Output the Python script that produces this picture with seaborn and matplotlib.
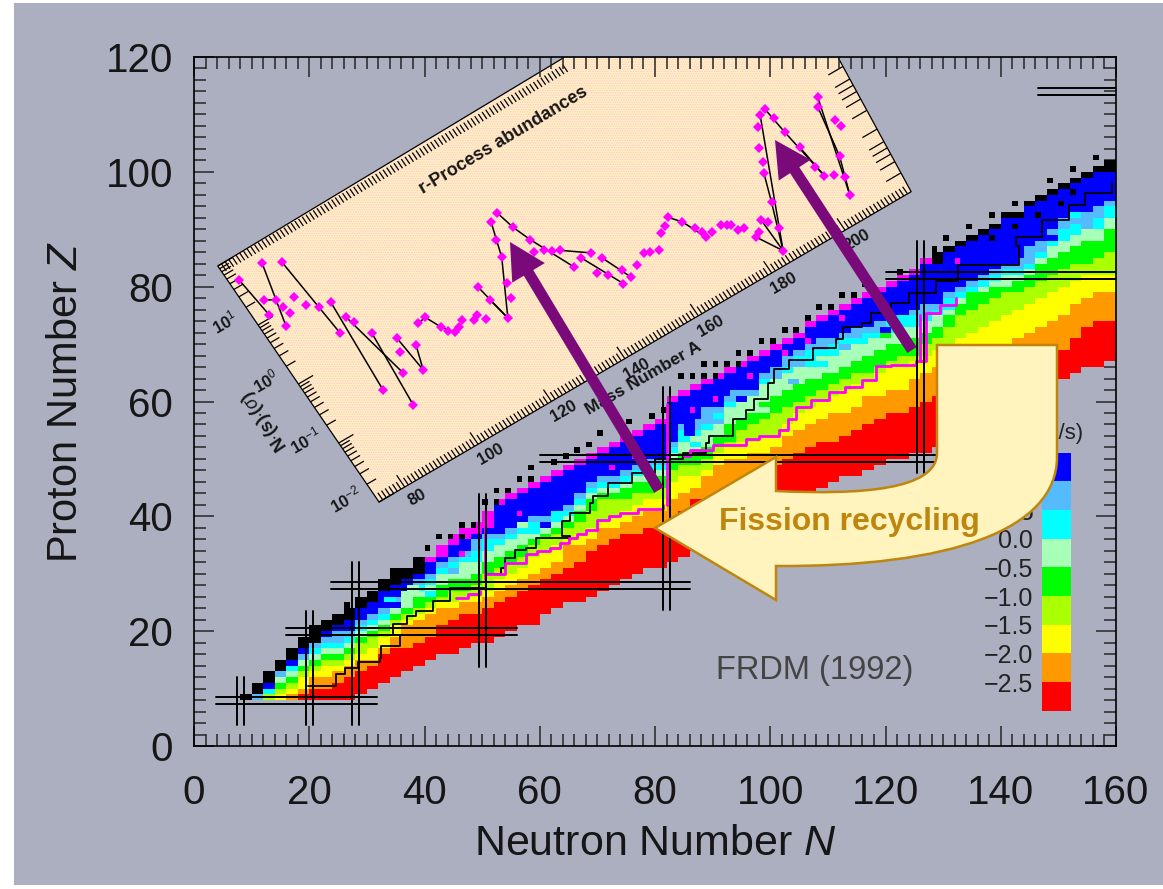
import numpy as np
import matplotlib
matplotlib.use('Agg')
import matplotlib.pyplot as plt
import seaborn as sns
from matplotlib.colors import ListedColormap
from matplotlib.collections import LineCollection
from matplotlib.patches import Rectangle, Polygon, PathPatch, FancyArrow
from matplotlib.path import Path
from matplotlib.transforms import Affine2D

# column start of every 2-wide neutron column in the chart
col_N = list(range(8, 160, 2))

# top Z of each colour band per column, from the bottom of the chart upwards
z_bottom = [8,8,8,8,8,8,8,8,8,8, 9,10,11,12,13,14,15,16,16,17, 18,18,19,20,21,21,23,24,25,25,
            26,27,28,29,30,31,31,32,33,34, 35,36,37,38,39,40,41,42,43,44, 45,46,47,47,48,49,50,50,51,51,
            52,53,54,55,56,57,58,59,60,61, 62,64,65,66,66,67]
z_red = [8,8,8,8,8,9,10,10,11,12, 13,14,16,17,17,18,19,21,22,23, 23,24,25,26,27,28,29,30,31,32,
         34,35,36,37,37,38,38,38,41,43, 43,44,44,45,46,47,49,50,51,52, 53,53,54,55,56,57,58,58,59,60,
         61,61,62,62,63,63,64,65,66,67, 68,69,71,73,74,74]
z_orange = [8,8,8,8,9,10,12,12,13,14, 15,15,17,19,21,22,23,24,24,25, 25,26,27,28,29,30,31,32,35,35,
            36,38,38,39,40,41,41,43,44,45, 47,49,50,50,51,51,52,54,55,56, 57,58,58,59,61,61,62,62,64,65,
            66,67,67,68,69,70,70,71,72,73, 74,75,77,78,79,79]
z_yellow = [8,8,8,9,10,12,13,14,14,15, 16,17,19,21,22,23,24,25,25,26, 26,27,29,30,31,33,34,35,36,37,
            38,39,40,41,42,43,43,46,47,47, 48,51,52,53,53,54,54,56,58,59, 60,61,62,63,64,65,66,66,67,68,
            69,70,71,72,73,74,75,76,77,78, 79,80,81,82,82,82]
z_lime = [8,8,9,10,11,13,14,15,15,16, 18,19,20,22,23,24,25,26,27,27, 28,30,31,32,33,35,36,37,38,39,
          41,43,43,43,44,44,45,48,49,49, 50,52,53,55,56,57,58,59,60,61, 62,63,64,65,65,66,67,68,68,70,
          71,73,75,76,77,78,79,79,80,81, 82,83,84,84,85,86]
z_green = [8,8,9,11,12,14,15,16,16,17, 19,20,21,23,24,26,27,28,29,29, 30,32,33,34,35,36,37,38,39,41,
           43,44,44,45,46,46,47,50,51,51, 52,54,56,57,58,60,61,62,63,64, 65,65,66,67,68,69,70,71,71,72,
           73,75,77,79,79,80,80,81,82,84, 85,86,87,88,88,90]
z_mint = [8,8,9,12,13,15,16,17,17,18, 20,21,22,24,26,27,28,30,31,32, 32,34,35,36,37,37,38,39,40,42,
          44,45,45,46,47,48,48,51,53,54, 55,57,59,60,61,63,64,65,67,67, 68,68,69,70,71,71,72,73,74,74,
          75,76,78,79,80,81,82,82,83,85, 87,88,89,90,90,92]
z_cyan = [8,8,10,12,14,15,17,18,18,19, 21,22,23,25,27,28,29,31,32,33, 34,36,36,37,38,39,39,40,41,43,
          45,46,46,47,48,49,49,52,55,55, 57,58,60,61,61,64,64,66,68,69, 69,70,71,71,72,73,74,75,75,75,
          76,78,79,80,81,82,83,83,84,86, 88,90,91,91,92,94]
z_ltblue = [8,9,10,13,14,16,18,19,20,20, 22,23,24,26,27,29,30,32,33,34, 36,37,37,38,39,40,40,41,42,44,
            46,47,47,48,49,50,50,53,56,57, 59,59,61,62,62,65,66,68,69,70, 71,71,72,73,73,74,75,75,76,77,
            77,79,80,81,82,83,84,85,86,88, 90,92,93,93,94,95]
z_blue = [8,9,11,13,15,17,18,20,21,22, 24,25,27,28,29,30,32,33,35,36, 37,38,42,43,44,45,46,47,48,49,
          50,51,52,53,54,55,56,60,61,62, 63,64,65,66,67,68,69,70,71,73, 74,75,76,77,78,79,80,81,82,84,
          84,86,87,88,89,90,92,92,94,95, 96,97,98,99,100,100]
z_magenta = [8,9,11,13,15,17,18,20,21,22, 24,25,27,28,29,30,33,35,37,38, 39,41,43,44,45,46,47,48,49,50,
             51,52,53,54,55,56,57,61,62,63, 64,65,66,67,68,69,70,71,72,74, 75,76,77,78,79,80,81,82,83,85,
             84,86,87,88,89,90,92,92,94,95, 96,97,98,99,100,100]
z_black = [9,11,13,15,17,19,21,22,23,24, 26,27,29,31,31,33,33,35,37,38, 39,41,43,44,45,46,47,48,49,50,
           51,52,53,54,55,56,57,61,62,63, 64,65,66,67,68,69,70,71,72,74, 75,76,77,78,79,80,81,82,83,85,
           86,87,88,89,90,91,93,93,95,96, 97,98,99,100,101,102]

band_colors = ['#FF0000', '#FF9900', '#FFFF00', '#AAFF00', '#00FF00', '#A8FFB8',
               '#00FFFF', '#55BBFF', '#0000FF', '#FF00FF', '#000000']

# single black cells
dot_N = [26,40,42,44,46,46,48,50,52,54,52,56,58,58,62,64,66,68,70,75,79,81,84,86,88,90,88,90,92,94,94,96,98,100,
         102,104,106,108,110,112,114,116,122,128,130,134,138,142,148,152,156,138,142,146,150,152]
dot_Z = [24,34,36,36,38,36,38,42,44,44,42,46,46,48,49,50,51,52,54,56,57,58,64,64,64,64,66,66,66,66,68,68,70,70,
         72,72,74,76,76,78,78,80,82,86,88,90,92,94,98,100,102,88,90,92,94,96]
# single magenta cells inside the blue part
spot_N = [96,106,112,102,132,90,72,86,76,56,46]
spot_Z = [64,70,74,68,84,60,48,58,50,40,33]
# other odd cells: column, Z, band number
speck_N = [85,85,85,88,90,88,86,93,94,106,108,109,107,110,103,118,115,119,119,138,141,148,34,33,37,40,36,98,96,104,
           112,122,124,128,134,144,152,154,70,74,62,60,66,92,44,48,56]
speck_Z = [54,55,56,56,56,54,52,61,60,66,66,67,64,64,63,72,70,71,72,84,84,88,24,25,27,26,26,58,55,66,
           69,70,73,76,80,86,92,90,46,46,40,38,42,56,30,32,38]
speck_band = [8,8,8,7,7,5,6,7,8,6,6,5,5,4,7,7,6,4,8,8,8,8,8,6,5,6,5,5,3,7,
              7,5,6,7,7,7,6,7,7,6,6,8,6,5,7,6,5]

# step line and r-process path (nan = pen up)
step_N = [19.8,24.7,24.7,26.2,26.2,28.5,28.5,31.1,32.3,32.5,35.7,35.7,34.6,36.9,36.9,38.6,38.6,41.5,41.5,44.4,44.4,
          50.7,53.3,54,55.7,57.7,59.4,65.2,63.8,65.2,68.7,69.2,71.8,76,80,84.8,88.9,89.4,93.5,93.5,95.8,97.2,99.6,
          100.7,103.3,107.4,111.4,112.6,116,117.4,120.9,124.1,128.7,132.5,132.5,143.2,142.6,147.2,151.8,154.7,159.3]
step_Z = [10.5,10.5,12.5,12.5,13.5,13.5,14.6,14.6,15.4,17.5,18.6,19.4,21.2,21.4,22.6,22.6,23.5,23.5,25.2,25.2,27.6,
          29.9,31,32.8,34.2,34.5,36.3,36.5,39.2,40.6,42.3,43.5,45.8,47.5,50,51,52.8,54,54.9,56.9,58.6,60.4,63.3,
          65.6,67.3,69.4,70.8,73,73.7,75.4,77.1,78.9,80.9,82,83.8,87,88.7,91.6,94.2,96.3,98]
path_N = [45.5,47.5,49.6,np.nan,50.7,54,57.7,59.5,61.7,63.5,65,66.5,68,70,72,73.9,77,81.4,np.nan,85,86,90,95.8,98,101.6,
          103,104.5,107,110.2,113,116,118.3,121,125.3,127,129.5,132.2,
          np.nan,50.5,50.5,np.nan,82,82,np.nan,126,126]
path_Z = [25.8,26.4,27,np.nan,29.9,31.8,33.4,34,34.5,35.4,36.3,37,37.7,39.4,40,40.6,41.2,42,np.nan,50.5,51.6,52.5,53.4,54,55.1,
          57,59.1,60.2,61.6,62.6,63.8,66.1,66.4,67,75.5,76.8,78,
          np.nan,29,41,np.nan,42,59.5,np.nan,67,75]

# closed shells: double lines
shell_N = [8,20,28,50,82,126]
shell_N_from = [3.6,3.7,3.7,13.7,23.7,47.6]
shell_N_to = [12,23.5,32,43.9,62.5,87.9]
shell_Z = [8,20,28,50,82,114]
shell_Z_from = [3.8,16,23.7,60,120,146.4]
shell_Z_to = [31.8,56,86,130,160,160]

# r-process abundances inset
rp_A = [75.3,82,86,77.5,79.8,76.5,80.3,78.3,80.8,83.7,85,87.2,90.2,87.9,91.2,92.1,94.1,88.7,98.3,97.1,94.9,92.6,
        101.1,99.2,104.4,106.6,108.4,110.4,113.4,115.8,118.2,120.9,121.5,122.6,125.9,127,129.5,130.7,132.1,134.5,
        135.7,137.4,136.5,138.7,141.8,142.3,144.9,147.5,148.9,146,147.9,151.3,149.7,152.1,157.7,161.1,163.8,167.2,
        169.4,171.1,172,176.6,178.6,180.6,181.7,185,187.4,185.2,189.4,191.8,193,194.2,196.8,198.8,200.5,201.1,
        201.3,202.2,202.6,203.2,205.1,207.1,205.6,208.8,211.1,212.4,212.6,213,
        154.8,159.1,109.3,173.8,179.2,186.1,171.9,112,117,140,165.5,177.6,183]
rp_logY = [1.68,1.72,1.6,1.26,1.18,1.05,1.04,.79,.92,1.08,.91,.79,.76,.33,.47,.36,.10,-.67,-.14,-.33,-.61,-1.06,
           -.36,-.71,-.11,-.09,-.32,-.48,-.38,-.47,-.53,-.09,-.33,-.68,-.46,-.25,.10,.35,.60,.67,
           .38,.11,-.07,-.12,-.23,-.53,-.47,-.48,-.61,-.76,-.87,-.91,-1.08,-1.06,-.85,-.93,-.74,-.59,
           -.75,-.91,-1.1,-1.06,-1.13,-1.26,-1.45,-1.28,-1.5,-1.81,-1.14,-.73,-.59,-.40,-.13,0,.03,-.14,
           -.39,-.67,-1.02,-1.19,-1.25,-1.35,-1.61,-1.06,-.31,-.19,-.59,-.71,
           -.95,-.89,-.41,-1.08,-1.24,-1.36,-1.01,-.44,-.42,-.18,-.68,-1.1,-1.42]
# pairs of inset points joined by the black curve
rp_links = [(0,5),(1,7),(2,13),(3,4),(12,17),(14,20),(16,21),(18,23),(22,23),(24,25),(25,26),(26,27),(31,33),(32,33),
            (38,36),(36,33),(39,40),(40,41),(41,45),(46,52),(44,47),(48,53),(57,58),(58,60),(64,67),(65,67),(73,67),
            (74,76),(76,79),(77,79),(85,82),(84,83),(83,82),(68,67),(69,68)]
inset_edge_A = [73,218,221.6,168,73]
inset_edge_Y = [-2,-2,0.13,2.08,2]
inset_A_ticks = [80,100,120,140,160,180,200]
inset_Y_ticks = [1,0,-1,-2]
inset_Y_labels = ['10$^{1}$','10$^{0}$','10$^{-1}$','10$^{-2}$']

# colour key, top to bottom
key_colors = ['#0000FF','#55BBFF','#00FFFF','#A8FFB8','#00FF00','#AAFF00','#FFFF00','#FF9900','#FF0000']
key_labels = ['1.0','0.5','0.0','\u22120.5','\u22121.0','\u22121.5','\u22122.0','\u22122.5']

x_ticks = list(range(0,161,20))
y_ticks = list(range(0,121,20))

W, H = 1163, 889
BG = '#ABAFC0'
GOLD = '#BF860F'
PURPLE = '#7A0A7A'
INK = '#161616'

sns.set_style('ticks')
plt.rcParams['font.family'] = ['Liberation Sans', 'DejaVu Sans']
plt.rcParams['mathtext.fontset'] = 'custom'
plt.rcParams['mathtext.rm'] = 'Liberation Sans'
plt.rcParams['mathtext.it'] = 'Liberation Sans:italic'
plt.rcParams['hatch.linewidth'] = 0.6
plt.rcParams['text.color'] = INK
plt.rcParams['axes.labelcolor'] = INK
plt.rcParams['xtick.labelcolor'] = INK
plt.rcParams['ytick.labelcolor'] = INK

fig = plt.figure(figsize=(W/100, H/100), dpi=100, facecolor='white')

# back layer: grey page and the inset
back = fig.add_axes([0,0,1,1], zorder=0)
back.set_xlim(0,W)
back.set_ylim(H,0)
back.axis('off')
back.add_patch(Rectangle((14,3), W-14, 882, fc=BG, ec='none'))

inset_trans = Affine2D.from_values(3.67,-2.14,-40.3,-59,30.49,540.22) + back.transData
back.add_patch(Polygon(np.c_[inset_edge_A, inset_edge_Y], closed=True, transform=inset_trans,
                       fc='#FFF0BE', ec='#FFC4D8', hatch='.......', lw=0))
back.plot(inset_edge_A[:3], inset_edge_Y[:3], transform=inset_trans, color='black', lw=0.9)
back.plot(inset_edge_A[3:]+inset_edge_A[:1], inset_edge_Y[3:]+inset_edge_Y[:1], transform=inset_trans, color='black', lw=0.9)

segs = []
for a in np.arange(74, 218, 1):
    segs.append([(a,-2), (a,-1.88 if a % 20 else -1.8)])
for a in np.arange(74, 168, 1):
    segs.append([(a,2), (a,1.88)])
for d in [2,1,0,-1,-2]:
    for m in range(1,10):
        v = d + np.log10(m)
        if v <= 2:
            segs.append([(73,v), (77 if m == 1 else 75.5,v)])
for v in [-1.7,-1.52,-1.4,-1.3,-1.2,-1,-.7,-.52,-.4,-.3,-.2,0]:
    segs.append([(218+(v+2)*1.7,v), (214+(v+2)*1.7,v)])
back.add_collection(LineCollection(segs, colors='black', linewidths=0.9, transform=inset_trans))

links = [[(rp_A[i],rp_logY[i]), (rp_A[j],rp_logY[j])] for i,j in rp_links]
back.add_collection(LineCollection(links, colors='black', linewidths=1.1, transform=inset_trans))
back.plot(rp_A, rp_logY, ls='none', marker='D', ms=5.5, color='#FF00FF', mew=0, transform=inset_trans)

for a in inset_A_ticks:
    back.text(a+1, -2.21, str(a), transform=inset_trans, rotation=30, ha='center', va='center',
              fontsize=12, fontweight='bold')
for v, lab in zip(inset_Y_ticks, inset_Y_labels):
    back.text(67, v+0.27, lab, transform=inset_trans, rotation=30, ha='center', va='center',
              fontsize=12, fontweight='bold')
back.text(145.4, 1.51, 'r-Process abundances', transform=inset_trans, rotation=31, ha='center', va='center',
          fontsize=13, fontweight='bold')
back.text(141, -2.37, 'Mass Number A', transform=inset_trans, rotation=30, ha='center', va='center',
          fontsize=12.5, fontweight='bold')
back.text(61.7, -0.2, 'N$\\bullet$(s)$\\cdot$($\\sigma$)', transform=inset_trans, rotation=124, ha='center', va='center',
          fontsize=13, fontweight='bold')

# main chart
ax = fig.add_axes([194/W, (H-746)/H, (1116-194)/W, (746-57)/H], zorder=1)
ax.patch.set_alpha(0)

tops = [z_bottom, z_red, z_orange, z_yellow, z_lime, z_green, z_mint, z_cyan, z_ltblue, z_blue, z_magenta, z_black]
grid = np.full((120,160), np.nan)
for c, n in enumerate(col_N):
    for k in range(len(band_colors)):
        grid[tops[k][c]:tops[k+1][c], n:n+2] = k
for n, z, b in zip(speck_N, speck_Z, speck_band):
    grid[z, n:n+2] = b
for n, z in zip(spot_N, spot_Z):
    grid[z, n] = 9
for n, z in zip(dot_N, dot_Z):
    grid[z, n] = 10

sns.heatmap(grid, ax=ax, cmap=ListedColormap(band_colors), vmin=-0.5, vmax=10.5, cbar=False,
            xticklabels=False, yticklabels=False)
ax.plot(step_N, step_Z, drawstyle='steps-post', color='black', lw=1.3)
ax.plot(path_N, path_Z, drawstyle='steps-post', color='#FF00FF', lw=2)

for n, z0, z1 in zip(shell_N, shell_N_from, shell_N_to):
    ax.plot([n-.6,n-.6], [z0,z1], color='black', lw=1.4)
    ax.plot([n+.6,n+.6], [z0,z1], color='black', lw=1.4)
for z, n0, n1 in zip(shell_Z, shell_Z_from, shell_Z_to):
    ax.plot([n0,n1], [z-.6,z-.6], color='black', lw=1.4)
    ax.plot([n0,n1], [z+.6,z+.6], color='black', lw=1.4)

ax.set_xlim(0,160)
ax.set_ylim(0,120)
ax.set_xticks(x_ticks)
ax.set_xticklabels(x_ticks)
ax.set_yticks(y_ticks)
ax.set_yticklabels(y_ticks)
ax.set_xticks(range(0,161,2), minor=True)
ax.set_yticks(range(0,121,2), minor=True)
ax.tick_params(which='major', direction='in', length=14.5, width=1.1, top=True, right=True, bottom=True, left=True)
ax.tick_params(which='minor', direction='in', length=8.5, width=1.1, top=True, right=True, bottom=True, left=True)
ax.tick_params(axis='x', which='major', labelsize=29, pad=20, labelrotation=0)
ax.tick_params(axis='y', which='major', labelsize=29, pad=15, labelrotation=0)
for s in ax.spines.values():
    s.set_visible(True)
    s.set_linewidth(1.2)
    s.set_color('black')
ax.set_xlabel('Neutron Number $\\mathit{N}$', fontsize=31, labelpad=9)
ax.set_ylabel('Proton Number $\\mathit{Z}$', fontsize=30, labelpad=14)
ax.text(90.5, 13.2, 'FRDM (1992)', fontsize=23.5, color='#444444', va='center', ha='left')
ax.text(154.3, 54.5, 'lg(T/s)', fontsize=16, color='#222222', va='center', ha='right')

# colour key
key = fig.add_axes([1041.7/W, (H-710.7)/H, 29/W, 258/H], zorder=2)
sns.heatmap(np.arange(9).reshape(9,1), ax=key, cmap=ListedColormap(key_colors), cbar=False,
            xticklabels=False, yticklabels=False)
key.set_yticks(range(1,9))
key.set_yticklabels(key_labels, fontsize=18, color='#222222')
key.tick_params(axis='y', length=0, pad=6, labelrotation=0)

# front layer: arrows
front = fig.add_axes([0,0,1,1], zorder=3)
front.set_xlim(0,W)
front.set_ylim(H,0)
front.axis('off')
front.patch.set_alpha(0)

verts = [(655,528),(776,457),(776,491),(860,495),(937,490),(937,453),(937,345),(1057,345),(1057,457),
         (1057,530),(950,567),(776,566),(776,600),(655,528)]
codes = [Path.MOVETO,Path.LINETO,Path.LINETO,Path.CURVE4,Path.CURVE4,Path.CURVE4,Path.LINETO,Path.LINETO,Path.LINETO,
         Path.CURVE4,Path.CURVE4,Path.CURVE4,Path.LINETO,Path.CLOSEPOLY]
front.add_patch(PathPatch(Path(verts, codes), fc='#FFF3BE', ec=GOLD, lw=1.8))
front.text(849, 522, 'Fission recycling', fontsize=23, fontweight='bold', color=GOLD, ha='center', va='center')

for (x0,y0),(x1,y1) in [((659,490),(510,242)), ((912,350),(775,140))]:
    front.add_patch(FancyArrow(x0, y0, x1-x0, y1-y0, width=11, head_width=38, head_length=36,
                               length_includes_head=True, fc=PURPLE, ec='none'))

fig.savefig('out.png', dpi=100)
